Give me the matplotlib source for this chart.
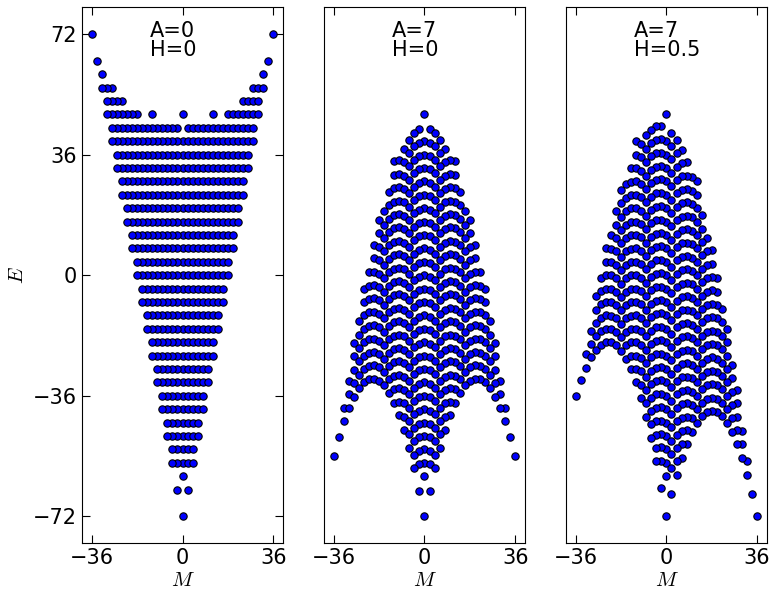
import matplotlib
matplotlib.use("Agg")
from matplotlib import pyplot as plt

# 6x6 Ising lattice: magnetisation M runs over even values -36..36
n_spins = 36

levels = [72, 64, 60, 56, 52, 48, 44, 40,
          36, 32, 28, 24, 20, 16, 12, 8, 4, 0,
          -4, -8, -12, -16, -20, -24, -28, -32, -36, -40,
          -44, -48, -52, -56, -60, -64, -72]

# which |M| occur on each level, as (lowest, highest) spans of even values
m_spans = [[(36, 36)], [(34, 34)], [(32, 32)], [(28, 32)], [(24, 30)],
           [(0, 0), (12, 12), (18, 30)], [(2, 28)], [(0, 28)],
           [(0, 26)], [(0, 26)], [(0, 24)], [(0, 24)], [(0, 22)], [(0, 22)],
           [(0, 20)], [(0, 20)], [(0, 18)], [(0, 18)],
           [(0, 16)], [(0, 16)], [(0, 14)], [(0, 14)], [(0, 12)], [(0, 12)],
           [(0, 10)], [(0, 10)], [(0, 8)], [(0, 8)],
           [(0, 6)], [(0, 6)], [(0, 4)], [(0, 4)], [(0, 0)], [(2, 2)], [(0, 0)]]

# panel parameters
A_vals = [0, 7, 7]
H_vals = [0, 0, 0.5]

m0 = []
e0 = []
for e, spans in zip(levels, m_spans):
    for lo, hi in spans:
        for m in range(lo, hi + 1, 2):
            m0.append(m)
            e0.append(e)
            if m > 0:
                m0.append(-m)
                e0.append(e)

plt.rcParams["mathtext.fontset"] = "cm"

fig, axes = plt.subplots(1, 3, figsize=(7.75, 5.92), dpi=100)
fig.subplots_adjust(left=0.1054, right=0.99, bottom=0.0823, top=0.9877, wspace=0.2)

for i, ax in enumerate(axes):
    A = A_vals[i]
    H = H_vals[i]
    e = [en - A * m ** 2 / (2.0 * n_spins) - H * m for m, en in zip(m0, e0)]
    ax.scatter(m0, e, s=28, c="#0000ff", edgecolors="black", linewidths=0.8, zorder=3)
    ax.set_xlim(-40, 40)
    ax.set_ylim(-80, 80)
    ax.set_xticks([-36, 0, 36])
    ax.tick_params(direction="in", top=True, right=True, length=6, labelsize=15)
    ax.set_xlabel("$M$", fontsize=15, labelpad=1)
    ax.text(0.34, 0.975, "A={:g}\nH={:g}".format(A, H), transform=ax.transAxes,
            ha="left", va="top", fontsize=15, linespacing=0.95)
    if i == 0:
        ax.set_yticks([-72, -36, 0, 36, 72])
        ax.set_ylabel("$E$", fontsize=15)
    else:
        ax.set_yticks([])

fig.savefig("out.png", dpi=100)
